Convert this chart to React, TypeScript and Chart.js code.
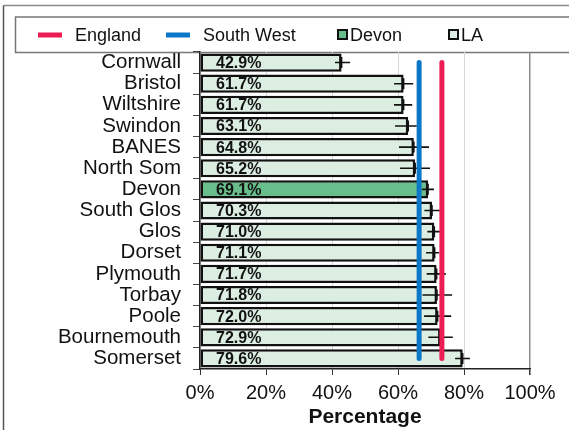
import React, { useEffect, useRef } from "react";
import { Chart, registerables } from "chart.js";

Chart.register(...registerables);

const categories = [
  "Cornwall", "Bristol", "Wiltshire", "Swindon", "BANES", "North Som", "Devon",
  "South Glos", "Glos", "Dorset", "Plymouth", "Torbay", "Poole", "Bournemouth", "Somerset",
];
const laValues = [42.9, 61.7, 61.7, 63.1, 64.8, 65.2, 69.1, 70.3, 71.0, 71.1, 71.7, 71.8, 72.0, 72.9, 79.6];
const ciLower = [40.9, 58.8, 58.8, 59.1, 60.3, 60.6, 67.3, 68.0, 68.9, 68.5, 68.7, 67.4, 67.9, 69.2, 77.3];
const ciUpper = [45.5, 64.6, 64.3, 65.7, 69.4, 69.7, 70.9, 72.7, 72.7, 72.5, 74.5, 76.4, 76.1, 76.6, 81.8];
const englandValue = 73.3;
const southWestValue = 66.4;
const highlightName = "Devon";
const xMin = 0;
const xMax = 100;
const xStep = 20;

const FONT = "'Liberation Sans', Arial, sans-serif";
const RED = "#EC1D52";
const BLUE = "#0B77C8";
const DEVON_FILL = "#68BF8B";
const LA_FILL = "#DCEEE1";

const legendItems = [
  { label: "England", kind: "line", color: RED, x: 38 },
  { label: "South West", kind: "line", color: BLUE, x: 166 },
  { label: "Devon", kind: "box", color: DEVON_FILL, x: 337 },
  { label: "LA", kind: "box", color: LA_FILL, x: 448 },
];

const framePlugin = {
  id: "frame",
  beforeDraw(chart: any) {
    const ctx = chart.ctx;
    ctx.save();
    ctx.fillStyle = "#fff";
    ctx.fillRect(0, 0, chart.width, chart.height);
    // outer frame
    ctx.lineWidth = 1.5;
    ctx.strokeStyle = "#8a8a8a";
    ctx.beginPath();
    ctx.moveTo(3.5, 5.5);
    ctx.lineTo(chart.width + 5, 5.5);
    ctx.stroke();
    ctx.strokeStyle = "#555";
    ctx.beginPath();
    ctx.moveTo(3.5, 5.5);
    ctx.lineTo(3.5, chart.height + 5);
    ctx.stroke();
    // legend box
    ctx.strokeStyle = "#777";
    ctx.lineWidth = 1.5;
    ctx.beginPath();
    ctx.moveTo(chart.width + 5, 17);
    ctx.lineTo(15.5, 17);
    ctx.lineTo(15.5, 52.5);
    ctx.lineTo(chart.width + 5, 52.5);
    ctx.stroke();
    // legend items
    ctx.font = `18px ${FONT}`;
    ctx.textBaseline = "middle";
    ctx.textAlign = "left";
    const cy = 35;
    for (const it of legendItems) {
      let tx;
      if (it.kind === "line") {
        ctx.fillStyle = it.color;
        ctx.fillRect(it.x, cy - 2.5, 24, 5);
        tx = it.x + 37;
      } else {
        ctx.fillStyle = it.color;
        ctx.fillRect(it.x + 1, cy - 5, 9, 9);
        ctx.strokeStyle = "#111";
        ctx.lineWidth = 2;
        ctx.strokeRect(it.x + 1, cy - 5, 9, 9);
        tx = it.x + 13;
      }
      ctx.fillStyle = "#111";
      ctx.fillText(it.label, tx, cy + 1);
    }
    ctx.restore();
  },
};

const errorLabelPlugin = {
  id: "errorLabels",
  afterDatasetDraw(chart: any, args: any) {
    if (args.index !== 0) return;
    const ctx = chart.ctx;
    const xs = chart.scales.x;
    const meta = chart.getDatasetMeta(0);
    ctx.save();
    // data labels
    ctx.font = `bold 16px ${FONT}`;
    ctx.fillStyle = "#111";
    ctx.textBaseline = "middle";
    ctx.textAlign = "left";
    meta.data.forEach((bar: any, i: number) => {
      const x0 = xs.getPixelForValue(0);
      ctx.fillText(laValues[i].toFixed(1) + "%", x0 + 16, bar.y + 1);
    });
    // error bars
    ctx.strokeStyle = "#111";
    ctx.lineWidth = 1.6;
    meta.data.forEach((bar: any, i: number) => {
      const lo = xs.getPixelForValue(ciLower[i]);
      const hi = xs.getPixelForValue(ciUpper[i]);
      const v = xs.getPixelForValue(laValues[i]);
      ctx.beginPath();
      ctx.moveTo(lo, bar.y);
      ctx.lineTo(hi, bar.y);
      ctx.moveTo(v, bar.y - 5.5);
      ctx.lineTo(v, bar.y + 5.5);
      ctx.stroke();
    });
    ctx.restore();
  },
};

export default function App() {
  const ref = useRef<HTMLCanvasElement>(null);
  useEffect(() => {
    document.body.style.margin = "0";
    const canvas = ref.current!;
    const chart = new Chart(canvas, {
      type: "bar",
      data: {
        labels: categories,
        datasets: [
          {
            type: "bar",
            label: "LA",
            data: laValues,
            backgroundColor: categories.map((c) => (c === highlightName ? DEVON_FILL : LA_FILL)),
            borderColor: "#111",
            borderWidth: 2.5,
            borderSkipped: false,
            barPercentage: 0.86,
            categoryPercentage: 1,
            order: 2,
          } as any,
          {
            type: "line",
            label: "England",
            data: categories.map(() => englandValue),
            borderColor: RED,
            borderWidth: 5,
            borderCapStyle: "round",
            pointRadius: 0,
            order: 1,
          } as any,
          {
            type: "line",
            label: "South West",
            data: categories.map(() => southWestValue),
            borderColor: BLUE,
            borderWidth: 5,
            borderCapStyle: "round",
            pointRadius: 0,
            order: 0,
          } as any,
        ],
      },
      options: {
        indexAxis: "y",
        animation: false,
        responsive: false,
        devicePixelRatio: 1,
        layout: { padding: { top: 52, right: 39, left: 0, bottom: 0 } },
        plugins: {
          legend: { display: false },
          tooltip: { enabled: false },
          title: { display: false },
        },
        scales: {
          x: {
            type: "linear",
            min: xMin,
            max: xMax,
            afterFit: (s: any) => {
              s.height = 61;
            },
            ticks: {
              stepSize: xStep,
              callback: (v: any) => v + "%",
              font: { family: FONT, size: 20 },
              color: "#111",
              padding: 6,
            },
            grid: {
              color: (c: any) => (c.tick && c.tick.value === xMax ? "#8c8c8c" : "#d8d8d8"),
              lineWidth: (c: any) => (c.tick && c.tick.value === xMax ? 1.5 : 1),
              tickColor: "#333",
              tickLength: 6,
            },
            border: { color: "#222", width: 1.5 },
            title: {
              display: true,
              text: "Percentage",
              font: { family: FONT, size: 21, weight: "bold" },
              color: "#111",
              padding: { top: 0, bottom: 0 },
            },
          },
          y: {
            type: "category",
            afterFit: (s: any) => {
              s.width = 200;
            },
            ticks: {
              font: { family: FONT, size: 20.5 },
              color: "#111",
              padding: 12,
              autoSkip: false,
            },
            grid: {
              drawOnChartArea: false,
              drawTicks: true,
              tickLength: 7,
              offset: true,
              tickColor: "#444",
            },
            border: { color: "#222", width: 1.5 },
          },
        },
      } as any,
      plugins: [framePlugin, errorLabelPlugin],
    });
    return () => chart.destroy();
  }, []);
  return (
    <div style={{ width: 569, height: 430, position: "relative" }}>
      <canvas ref={ref} width={569} height={430} style={{ display: "block" }} />
    </div>
  );
}
